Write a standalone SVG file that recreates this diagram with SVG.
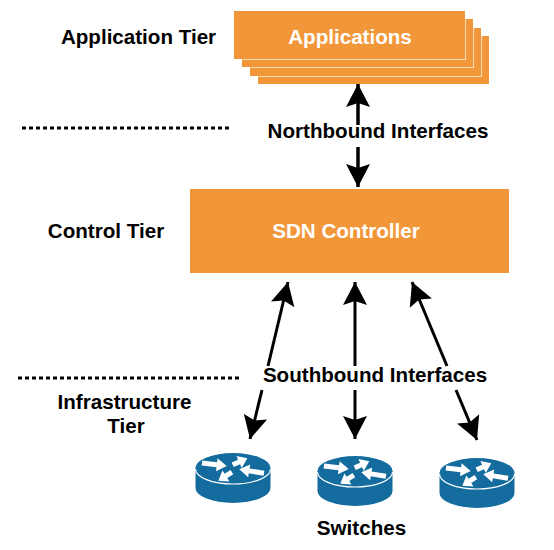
<svg xmlns="http://www.w3.org/2000/svg" width="554" height="550" viewBox="0 0 554 550">
<defs>
<style>
text{font-family:"Liberation Sans",Arial,sans-serif;font-weight:bold;font-size:20.6px;fill:#000;text-anchor:middle}
.w{fill:#fff}
.o{fill:#f29739}
.e{fill:none;stroke:#fbd9b0;stroke-width:1.2}
.c{stroke:#000;stroke-width:3;fill:none;marker-end:url(#a)}
.t{stroke:#000;stroke-width:3.5;fill:none;marker-end:url(#a)}
.d{stroke:#000;stroke-width:3;stroke-dasharray:4 3;fill:none}
.b{fill:#136b9e}
.l{fill:none;stroke:#fff;stroke-width:1.2}
</style>
<marker id="a" markerUnits="userSpaceOnUse" markerWidth="26" markerHeight="26" refX="23" refY="13" orient="auto" viewBox="0 0 26 26">
<path d="M23 13L0 1L4 13L0 25Z" fill="#000"/>
</marker>
<path id="long" class="w" d="M0 0L-10-6.500V-2.500H-25V2.500H-10V6.500Z"/>
<path id="short" class="w" d="M0 0L-9-6.500V-2.500H-16V2.500H-9V6.500Z"/>
<g id="router">
<path class="b" d="M-37.500 0V20A37.500 15 0 0 0 37.500 20V0Z"/>
<ellipse class="b" cx="0" cy="0" rx="37.500" ry="15"/>
<path class="l" d="M-37.500 1A37.500 15 0 0 0 37.500 1"/>
<use href="#long" transform="translate(-6.300,-2) rotate(7)"/>
<use href="#long" transform="translate(6.300,1.300) rotate(189)"/>
<use href="#short" transform="translate(14.300,-9.700) rotate(-24)"/>
<use href="#short" transform="translate(-14.700,12.700) rotate(148)"/>
</g>
</defs>
<rect width="554" height="550" fill="#fff"/>
<g id="connectors">
<path class="t" d="M358 125V84"/>
<path class="t" d="M358 147V187"/>
<path class="c" d="M268 366L288 282"/>
<path class="c" d="M262 390L250 439"/>
<path class="c" d="M355 366V282"/>
<path class="c" d="M355 390V439"/>
<path class="c" d="M447 366L412 282"/>
<path class="c" d="M456 390L477 440"/>
<path class="d" d="M22 128H229"/>
<path class="d" d="M18 378H240"/>
</g>
<g id="applications">
<rect class="o" x="258" y="36" width="231" height="48"/>
<path class="e" d="M258 76.500H481.500V36"/>
<rect class="o" x="250" y="28" width="231" height="48"/>
<path class="e" d="M250 67.500H473.500V28"/>
<rect class="o" x="242" y="19" width="231" height="48"/>
<path class="e" d="M242 59.500H465.500V19"/>
<rect class="o" x="234" y="11" width="231" height="48"/>
<text class="w" x="350" y="44">Applications</text>
</g>
<g id="sdn-controller">
<rect class="o" x="190" y="189" width="319" height="84"/>
<text class="w" x="346" y="238">SDN Controller</text>
</g>
<g id="router-1"><use href="#router" x="233" y="468"/></g>
<g id="router-2"><use href="#router" x="355" y="471"/></g>
<g id="router-3"><use href="#router" x="477" y="473"/></g>
<g id="labels">
<text x="138.500" y="44">Application Tier</text>
<text x="378" y="138">Northbound Interfaces</text>
<text x="106" y="238">Control Tier</text>
<text x="375" y="382">Southbound Interfaces</text>
<text x="124.500" y="409">Infrastructure</text>
<text x="126" y="433">Tier</text>
<text x="361.500" y="535">Switches</text>
</g>
</svg>
